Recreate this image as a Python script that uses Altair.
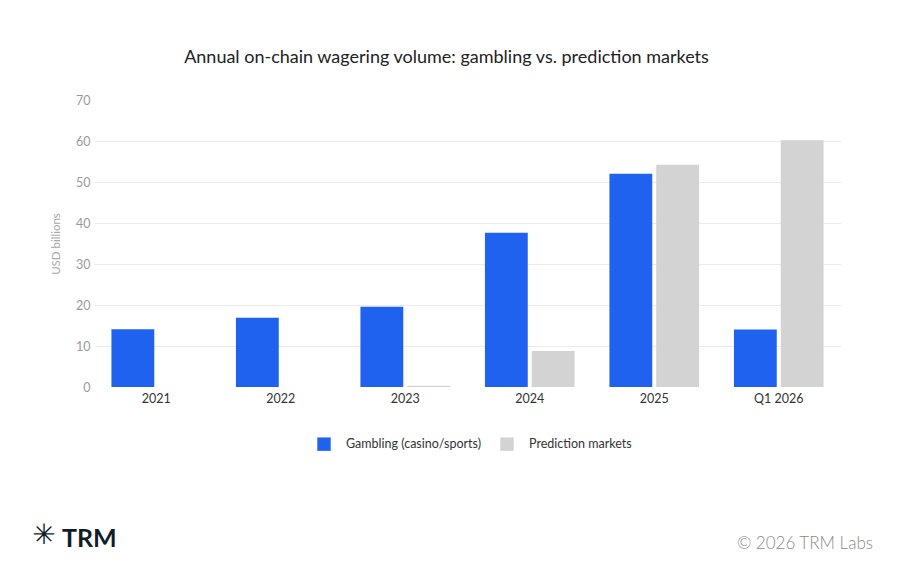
import altair as alt
import pandas as pd

periods = ["2021", "2022", "2023", "2024", "2025", "Q1 2026"]
gambling = [14.1, 16.9, 19.6, 37.6, 52.0, 14.0]
prediction = [0.0, 0.0, 0.3, 8.8, 54.2, 60.2]
series_names = ["Gambling (casino/sports)", "Prediction markets"]
series_colors = ["#1F62F0", "#D3D3D3"]
y_ticks = [0, 10, 20, 30, 40, 50, 60, 70]

rows = []
for p, g, m in zip(periods, gambling, prediction):
    rows.append({"period": p, "series": series_names[0], "value": g})
    rows.append({"period": p, "series": series_names[1], "value": m})
df = pd.DataFrame(rows)

FONT = "Lato"

bars = alt.Chart(df).mark_bar().encode(
    x=alt.X(
        "period:N",
        sort=periods,
        title=None,
        scale=alt.Scale(paddingInner=0.28, paddingOuter=0.14),
        axis=alt.Axis(
            labelAngle=0, labelColor="#333333", labelFontSize=12.5, labelFont=FONT,
            ticks=False, domain=False, labelPadding=5, grid=False,
        ),
    ),
    xOffset=alt.XOffset("series:N", sort=series_names,
                        scale=alt.Scale(paddingInner=0.085, paddingOuter=0)),
    y=alt.Y(
        "value:Q",
        title="USD billions",
        scale=alt.Scale(domain=[0, 70], nice=False),
        axis=alt.Axis(
            values=y_ticks, labelColor="#9a9a9a", labelFontSize=12.5, labelFont=FONT,
            titleColor="#a8a8a8", titleFontSize=11.5, titleFont=FONT,
            titleFontWeight="normal", titlePadding=14,
            ticks=False, domain=False, labelPadding=4,
            gridColor="#ececec", gridWidth=1,
            gridOpacity=alt.condition("datum.value === 70 || datum.value === 0",
                                      alt.value(0), alt.value(1)),
        ),
    ),
    color=alt.Color(
        "series:N",
        sort=series_names,
        scale=alt.Scale(domain=series_names, range=series_colors),
        legend=alt.Legend(
            title=None, orient="none", legendX=223, legendY=337,
            direction="horizontal", symbolType="square", symbolSize=180,
            symbolStrokeWidth=0, labelFontSize=12.5, labelFont=FONT,
            labelColor="#333333", labelOffset=15, columnPadding=18, padding=0,
        ),
    ),
)

copyright_txt = alt.Chart(pd.DataFrame({"t": ["© 2026 TRM Labs"]})).mark_text(
    align="right", baseline="alphabetic", fontSize=17, font=FONT,
    fontWeight=300, color="#8a8a8a",
).encode(x=alt.value(779), y=alt.value(449), text="t:N")

logo_txt = alt.Chart(pd.DataFrame({"t": ["TRM"]})).mark_text(
    align="left", baseline="alphabetic", fontSize=25, font=FONT,
    fontWeight="bold", color="#0f1d2b",
).encode(x=alt.value(-32), y=alt.value(447), text="t:N")

logo_icon = alt.Chart(pd.DataFrame({"t": ["✳"]})).mark_text(
    align="center", baseline="middle", fontSize=28, font="DejaVu Sans",
    color="#0f1d2b",
).encode(x=alt.value(-50), y=alt.value(436), text="t:N")

chart = alt.layer(bars, copyright_txt, logo_txt, logo_icon).properties(
    width=747,
    height=287,
    background="white",
    autosize=alt.AutoSizeParams(type="none"),
    padding={"left": 86, "top": 92, "right": 49, "bottom": 180},
    title=alt.TitleParams(
        "Annual on-chain wagering volume: gambling vs. prediction markets",
        font=FONT, fontSize=18, fontWeight="normal", color="#222222",
        anchor="middle", dx=-21, offset=13, baseline="alphabetic",
    ),
).configure_view(strokeWidth=0, stroke="transparent")

chart.save("out.html", embed_options={"renderer": "svg", "actions": False})
